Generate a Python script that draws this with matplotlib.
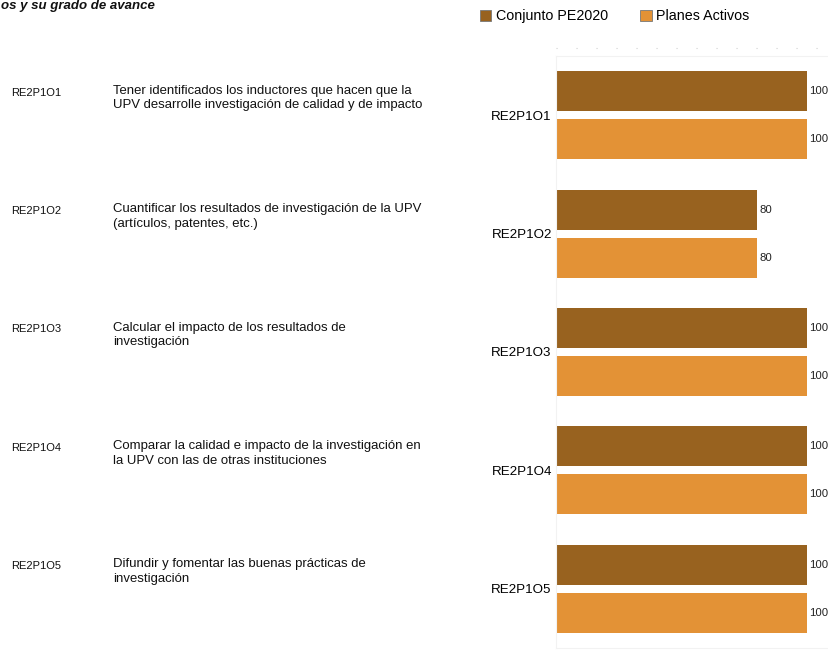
import matplotlib
matplotlib.use("Agg")
import matplotlib.pyplot as plt
from matplotlib.patches import Patch
from matplotlib.lines import Line2D
import numpy as np

codes = ["RE2P1O1", "RE2P1O2", "RE2P1O3", "RE2P1O4", "RE2P1O5"]
descriptions = [
    "Tener identificados los inductores que hacen que la\nUPV desarrolle investigación de calidad y de impacto",
    "Cuantificar los resultados de investigación de la UPV\n(artículos, patentes, etc.)",
    "Calcular el impacto de los resultados de\ninvestigación",
    "Comparar la calidad e impacto de la investigación en\nla UPV con las de otras instituciones",
    "Difundir y fomentar las buenas prácticas de\ninvestigación",
]
conjunto = [100, 80, 100, 100, 100]
planes = [100, 80, 100, 100, 100]
series_names = ["Conjunto PE2020", "Planes Activos"]
title = "os y su grado de avance"

dark = "#98621F"
light = "#E39236"
font = "Liberation Sans"

W, H = 829, 655
fig = plt.figure(figsize=(W / 100, H / 100), dpi=100)

# axes: x from 556px to 832px, y from 56px to 648px
left, right, top, bottom = 556, 832, 56, 648
ax = fig.add_axes([left / W, 1 - bottom / H, (right - left) / W, (bottom - top) / H])
ax.set_xlim(0, (right - left) / 2.51)
n = len(codes)
ax.set_ylim(n - 0.5, -0.5)
y = np.arange(n)
bh = 0.338
off = 0.203
ax.barh(y - off, conjunto, height=bh, color=dark, edgecolor="none")
ax.barh(y + off, planes, height=bh, color=light, edgecolor="none")
for i in range(n):
    ax.text(conjunto[i] + 1.0, y[i] - off, f"{conjunto[i]}", va="center", ha="left",
            fontsize=8.2, family=font, color="#222222")
    ax.text(planes[i] + 1.0, y[i] + off, f"{planes[i]}", va="center", ha="left",
            fontsize=8.2, family=font, color="#222222")

ax.set_xticks([])
ax.set_yticks(y)
ax.set_yticklabels(codes, family=font, fontsize=9.6)
ax.tick_params(axis="y", length=0, pad=3)
for s in ax.spines.values():
    s.set_color("#F2F2F2")
    s.set_linewidth(0.8)

# left-hand text columns, aligned to category positions
for i in range(n):
    yd = ax.transData.transform((0, y[i]))[1]
    yfig = (yd + 29) / H  # top of text block
    fig.text(11 / W, yfig - 0.002, codes[i], ha="left", va="top", fontsize=8, family=font, color="#111111")
    fig.text(113 / W, yfig + 0.002, descriptions[i], ha="left", va="top", fontsize=9.45,
             family=font, color="#111111", linespacing=1.27)

# dotted guide above the plot
fig.add_artist(Line2D([556 / W, 1.0], [1 - 48 / H, 1 - 48 / H], transform=fig.transFigure,
                      color="#D0D0D0", linewidth=0.8, linestyle=(0, (1, 17))))

# title (only its visible part, at the top-left edge like the reference)
fig.text(1 / W, 1 - 9 / H, title, ha="left", va="baseline", fontsize=9.5,
         family=font, weight="bold", style="italic", color="#111111")

handles = [Patch(facecolor=dark, edgecolor="#777777", linewidth=0.6),
           Patch(facecolor=light, edgecolor="#777777", linewidth=0.6)]
fig.legend(handles, series_names, loc="center left", bbox_to_anchor=(480 / W, 1 - 16 / H),
           ncol=2, frameon=False, prop={"family": font, "size": 10.3},
           handlelength=0.8, handleheight=0.8, handletextpad=0.3, columnspacing=2.28,
           borderaxespad=0, borderpad=0)

fig.savefig("out.png", dpi=100)
